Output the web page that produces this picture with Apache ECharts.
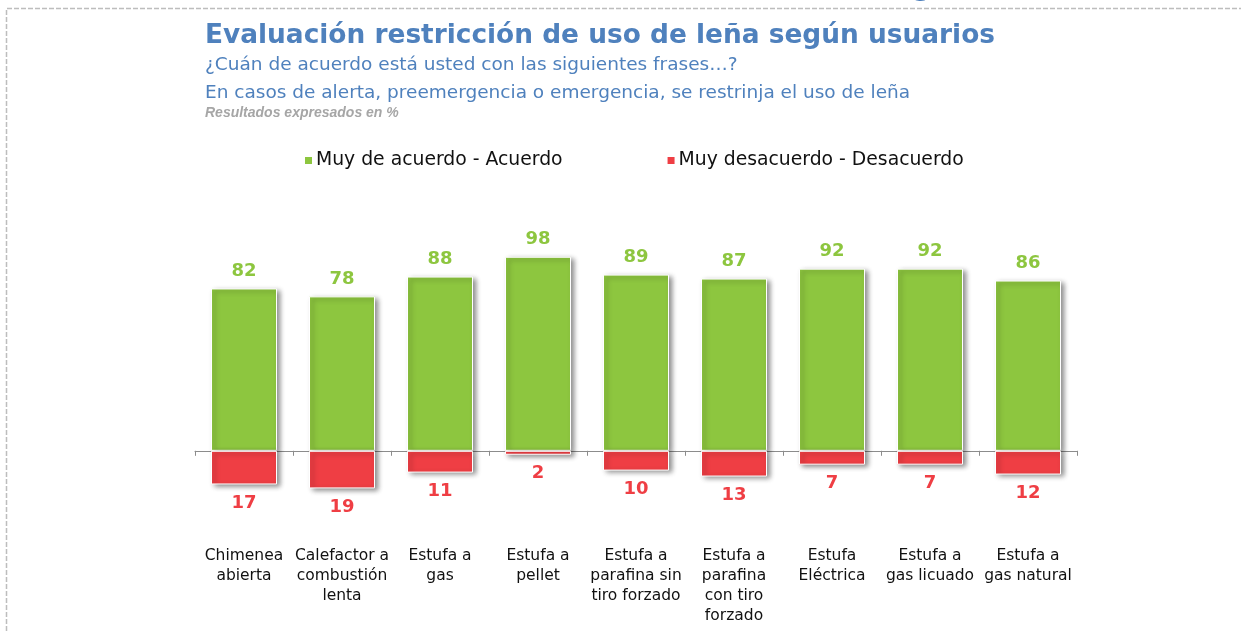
<!DOCTYPE html>
<html>
<head>
<meta charset="utf-8">
<script src="https://cdn.jsdelivr.net/npm/echarts@6/dist/echarts.min.js"></script>
<style>
  html, body { margin: 0; padding: 0; background: #fff; }
  #chart { width: 1241px; height: 631px; }
</style>
</head>
<body>
<div id="chart"></div>
<script>
// Tipo de calefacción evaluado
const categories = [
  'Chimenea\nabierta',
  'Calefactor a\ncombustión\nlenta',
  'Estufa a\ngas',
  'Estufa a\npellet',
  'Estufa a\nparafina sin\ntiro forzado',
  'Estufa a\nparafina\ncon tiro\nforzado',
  'Estufa\nEléctrica',
  'Estufa a\ngas licuado',
  'Estufa a\ngas natural'
];

// Porcentaje de acuerdo / desacuerdo por tipo de calefacción
const acuerdo = [82, 78, 88, 98, 89, 87, 92, 92, 86];
const desacuerdo = [17, 19, 11, 2, 10, 13, 7, 7, 12];

const seriesNames = ['Muy de acuerdo - Acuerdo', 'Muy desacuerdo - Desacuerdo'];

const GREEN = '#8dc63f';
const RED = '#ef3e44';
const BLUE = '#4f81bd';

const chart = echarts.init(document.getElementById('chart'), null, { renderer: 'canvas' });

const barItem = (color) => ({
  color: color,
  borderColor: '#ffffff',
  borderWidth: 1,
  shadowColor: 'rgba(0,0,0,0.45)',
  shadowBlur: 5,
  shadowOffsetX: 3,
  shadowOffsetY: 2
});

chart.setOption({
  animation: false,
  backgroundColor: '#ffffff',
  title: [
    {
      text: 'Evaluación restricción de uso de leña según usuarios',
      left: 200, top: 18,
      textStyle: { color: BLUE, fontFamily: 'DejaVu Sans', fontWeight: 'bold', fontSize: 26.4 }
    },
    {
      text: '¿Cuán de acuerdo está usted con las siguientes frases…?',
      left: 200, top: 51,
      textStyle: { color: BLUE, fontFamily: 'DejaVu Sans', fontWeight: 'normal', fontSize: 18.5 }
    },
    {
      text: 'En casos de alerta, preemergencia o emergencia, se restrinja el uso de leña',
      left: 200, top: 79,
      textStyle: { color: BLUE, fontFamily: 'DejaVu Sans', fontWeight: 'normal', fontSize: 18.5 }
    },
    {
      text: 'Resultados expresados en %',
      left: 200, top: 101,
      textStyle: { color: '#a6a6a6', fontFamily: 'Liberation Sans', fontWeight: 'bold', fontStyle: 'italic', fontSize: 14 }
    }
  ],
  legend: {
    data: seriesNames,
    left: 298, top: 146,
    icon: 'rect',
    itemWidth: 9, itemHeight: 9,
    itemGap: 103,
    textStyle: { color: '#111', fontFamily: 'DejaVu Sans', fontSize: 18.8, padding: [0, 0, 0, -2] }
  },
  grid: { left: 195, width: 882, top: 233, height: 297, outerBoundsMode: 'none', containLabel: false },
  xAxis: {
    type: 'category',
    data: categories,
    axisLine: { onZero: true, lineStyle: { color: '#8c8c8c', width: 1 } },
    axisTick: { show: true, length: 5, lineStyle: { color: '#8c8c8c' } },
    axisLabel: {
      interval: 0, margin: 16,
      color: '#111', fontFamily: 'DejaVu Sans', fontSize: 15.5, lineHeight: 20,
      align: 'center', verticalAlign: 'top'
    }
  },
  yAxis: {
    type: 'value', min: -40, max: 110,
    show: false, splitLine: { show: false }
  },
  series: [
    {
      name: seriesNames[0],
      type: 'bar', stack: 'total', barWidth: 66,
      data: acuerdo,
      itemStyle: barItem(GREEN),
      label: {
        show: true, position: 'top', distance: 8,
        color: GREEN, fontFamily: 'DejaVu Sans', fontWeight: 'bold', fontSize: 18
      }
    },
    {
      name: seriesNames[1],
      type: 'bar', stack: 'total', barWidth: 66,
      data: desacuerdo.map(v => -v),
      itemStyle: barItem(RED),
      label: {
        show: true, position: 'bottom', distance: 10,
        color: RED, fontFamily: 'DejaVu Sans', fontWeight: 'bold', fontSize: 18,
        formatter: p => Math.abs(p.value)
      }
    }
  ],
  graphic: [
    {
      type: 'polyline', silent: true,
      shape: { points: [[6.5, 631], [6.5, 8.5], [1241, 8.5]] },
      style: { stroke: '#bdbdbd', lineWidth: 1.5, lineDash: [5, 2], fill: null }
    },
    {
      // descender of the page heading line above the frame
      type: 'text', silent: true, x: 922, y: 1,
      style: { text: 'g', fill: BLUE, font: 'bold 26px "DejaVu Sans"', align: 'center', verticalAlign: 'bottom' }
    }
  ]
});
</script>
</body>
</html>
